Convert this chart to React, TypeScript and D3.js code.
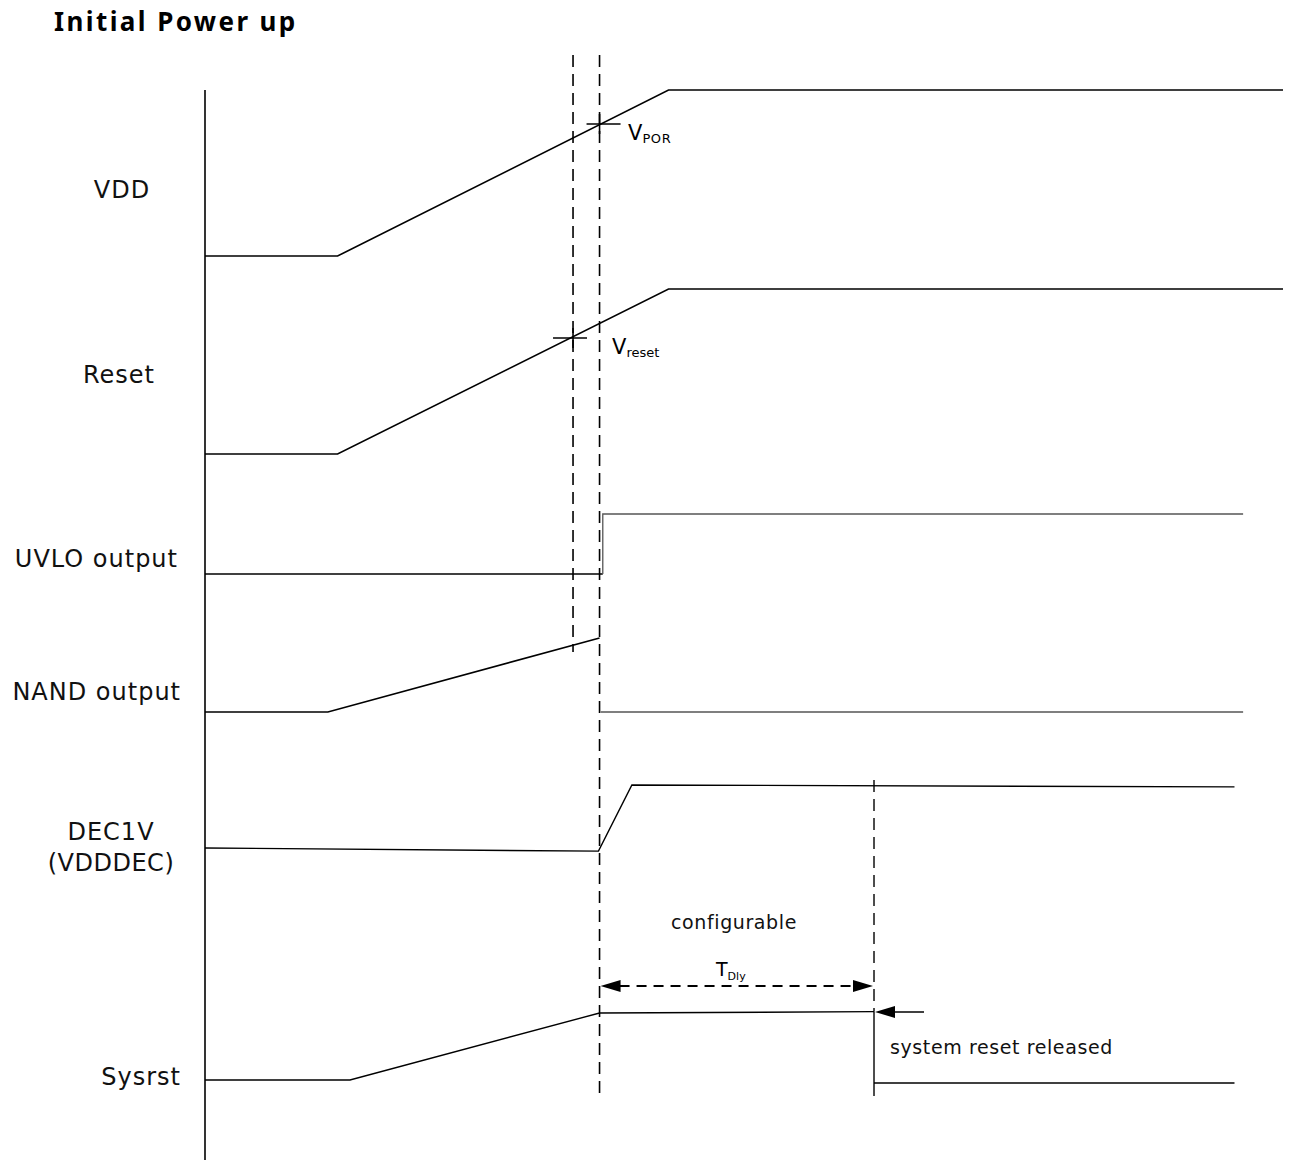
import React from 'react';
import * as d3 from 'd3';

// Time axis in arbitrary units (0..100), signal levels normalised 0 = low, 1 = high
const signalNames = ['VDD', 'Reset', 'UVLO output', 'NAND output', 'DEC1V', 'Sysrst'];

const vddWave: [number, number][] = [[0, 0], [12.3, 0], [43.0, 1], [100, 1]];
const resetWave: [number, number][] = [[0, 0], [12.3, 0], [43.0, 1], [100, 1]];
const uvloLow: [number, number][] = [[0, 0], [36.9, 0]];
const uvloHigh: [number, number][] = [[36.9, 0], [36.9, 1], [96.3, 1]];
const nandRamp: [number, number][] = [[0, 0], [11.4, 0], [36.6, 1]];
const nandLow: [number, number][] = [[36.7, 0], [96.3, 0]];
const dec1vWave: [number, number][] = [[0, 0], [36.5, -0.05], [39.6, 1], [95.5, 0.97]];
const sysrstRamp: [number, number][] = [[0, 0], [13.45, 0], [36.6, 1], [62.06, 1.02]];
const sysrstLow: [number, number][] = [[62.06, -0.045], [95.5, -0.045]];

// key instants
const tReset = 34.14;
const tPor = 36.6;
const tDlyEnd = 62.06;

const App: React.FC = () => {
  const width = 1289;
  const height = 1160;

  const x = d3.scaleLinear().domain([0, 100]).range([205, 1283]);

  // one y scale per signal row: [low px, high px]
  const rows = [
    [256, 90],
    [454, 289],
    [574, 514],
    [712, 638],
    [848, 785],
    [1080, 1013],
  ];
  const y = rows.map(([lo, hi]) => d3.scaleLinear().domain([0, 1]).range([lo, hi]));

  const line = (i: number) =>
    d3.line<[number, number]>().x(d => x(d[0])).y(d => y[i](d[1]));

  const font = "'DejaVu Sans', 'Noto Sans', sans-serif";
  const titleFont = "'Noto Sans', 'DejaVu Sans', sans-serif";
  const dark = { fill: 'none', stroke: '#000', strokeWidth: 1.6 };
  const thin = { fill: 'none', stroke: '#555', strokeWidth: 1.3 };
  const dash = '12,7';

  const labelStyle = { fontFamily: font, fontSize: 24, letterSpacing: 1, fill: '#111' };
  const noteStyle = { fontFamily: font, fontSize: 19, letterSpacing: 0.6, fill: '#111' };

  const tdlyY = 986;
  const arrowHead = (tipX: number, yy: number, dir: number) =>
    `M${tipX},${yy} L${tipX - dir * 20},${yy - 6} L${tipX - dir * 20},${yy + 6} Z`;

  return (
    <svg width={width} height={height} style={{ position: 'absolute', left: 0, top: 0, background: '#fff' }}>
      <text x={54} y={31} style={{ fontFamily: titleFont, fontSize: 26, fontWeight: 'bold', letterSpacing: 2.4 }}>
        Initial Power up
      </text>

      {/* vertical axis */}
      <line x1={205} x2={205} y1={90} y2={1160} stroke="#000" strokeWidth={1.6} />

      {/* signal labels */}
      <text x={122} y={198} textAnchor="middle" style={labelStyle}>{signalNames[0]}</text>
      <text x={119} y={383} textAnchor="middle" style={labelStyle}>{signalNames[1]}</text>
      <text x={178} y={567} textAnchor="end" style={labelStyle}>{signalNames[2]}</text>
      <text x={181} y={700} textAnchor="end" style={labelStyle}>{signalNames[3]}</text>
      <text x={111} y={840} textAnchor="middle" style={labelStyle}>{signalNames[4]}</text>
      <text x={111} y={871} textAnchor="middle" style={{ ...labelStyle, letterSpacing: 0.5 }}>(VDDDEC)</text>
      <text x={181} y={1085} textAnchor="end" style={labelStyle}>{signalNames[5]}</text>

      {/* dashed timing markers */}
      <line x1={x(tReset)} x2={x(tReset)} y1={55} y2={652} stroke="#000" strokeWidth={1.6} strokeDasharray={dash} />
      <line x1={x(tPor)} x2={x(tPor)} y1={55} y2={1098} stroke="#000" strokeWidth={1.6} strokeDasharray={dash} />
      <line x1={x(tDlyEnd)} x2={x(tDlyEnd)} y1={780} y2={y[5](1.02)} stroke="#000" strokeWidth={1.4} strokeDasharray={dash} />
      <line x1={x(tDlyEnd)} x2={x(tDlyEnd)} y1={y[5](1.02)} y2={1096} stroke="#000" strokeWidth={1.4} />

      {/* waveforms */}
      <path d={line(0)(vddWave) || ''} {...dark} />
      <path d={line(1)(resetWave) || ''} {...dark} />
      <path d={line(2)(uvloLow) || ''} {...dark} strokeWidth={1.3} />
      <path d={line(2)(uvloHigh) || ''} {...thin} />
      <path d={line(3)(nandRamp) || ''} {...dark} />
      <path d={line(3)(nandLow) || ''} {...thin} />
      <path d={line(4)(dec1vWave) || ''} {...dark} strokeWidth={1.4} />
      <path d={line(5)(sysrstRamp) || ''} {...dark} strokeWidth={1.4} />
      <path d={line(5)(sysrstLow) || ''} {...dark} strokeWidth={1.3} />

      {/* VPOR threshold cross */}
      <line x1={x(tPor) - 13} x2={x(tPor) + 21} y1={124} y2={124} stroke="#000" strokeWidth={1.6} />
      <line x1={x(tPor)} x2={x(tPor)} y1={114} y2={134} stroke="#000" strokeWidth={1.6} />
      <text x={628} y={140} style={{ fontFamily: font, fontSize: 21 }}>
        V<tspan fontSize={13} dy={3} letterSpacing={0.6}>POR</tspan>
      </text>

      {/* Vreset threshold cross */}
      <line x1={x(tReset) - 20} x2={x(tReset) + 14} y1={338} y2={338} stroke="#000" strokeWidth={1.6} />
      <line x1={x(tReset)} x2={x(tReset)} y1={328} y2={348} stroke="#000" strokeWidth={1.6} />
      <text x={612} y={354} style={{ fontFamily: font, fontSize: 21 }}>
        V<tspan fontSize={13} dy={3}>reset</tspan>
      </text>

      {/* TDly annotation */}
      <text x={734} y={929} textAnchor="middle" style={noteStyle}>configurable</text>
      <text x={716} y={976} style={{ fontFamily: font, fontSize: 19 }}>
        T<tspan fontSize={11} dy={4}>Dly</tspan>
      </text>
      <line x1={x(tPor) + 20} x2={x(tDlyEnd) - 20} y1={tdlyY} y2={tdlyY} stroke="#000" strokeWidth={1.8} strokeDasharray="10,7" />
      <path d={arrowHead(x(tPor) + 1, tdlyY, -1)} fill="#000" />
      <path d={arrowHead(x(tDlyEnd) - 1, tdlyY, 1)} fill="#000" />

      {/* system reset released arrow */}
      <line x1={x(tDlyEnd) + 18} x2={x(tDlyEnd) + 50} y1={1012} y2={1012} stroke="#000" strokeWidth={1.6} />
      <path d={arrowHead(x(tDlyEnd) + 1, 1012, -1)} fill="#000" />
      <text x={890} y={1054} style={noteStyle}>system reset released</text>
    </svg>
  );
};

export default App;
